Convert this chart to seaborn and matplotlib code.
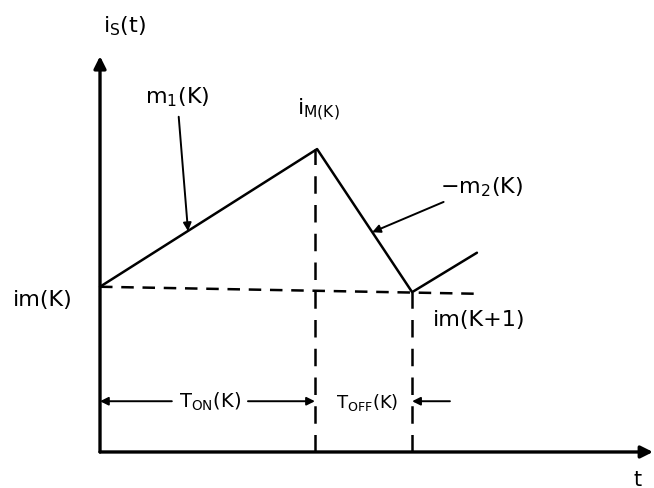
import numpy as np
import pandas as pd
import matplotlib
matplotlib.use("Agg")
import matplotlib.pyplot as plt
import seaborn as sns

# switching waveform of the inductor current (one period plus the start of the next)
t_pts = [0.0, 4.02, 5.78, 6.98]
i_pts = [3.06, 5.61, 2.96, 3.69]

t_on = 3.98      # end of T_ON(K)
t_off = 5.78     # end of T_OFF(K)
i_min = 3.06
i_max = 5.61
t_axis_end = 10.24
i_axis_end = 7.33
arrow_level = 0.94   # height of the T_ON / T_OFF dimension arrows

sns.set_theme(style="white")
plt.rcParams['font.family'] = ['DejaVu Sans']
plt.rcParams['text.color'] = 'black'

fig = plt.figure(figsize=(6.54, 4.89), dpi=100)
ax = fig.add_axes([0, 0, 1, 1])
ax.set_xlim(-1.852, 10.259)
ax.set_ylim(-0.667, 8.389)
ax.axis('off')

df = pd.DataFrame({'t': t_pts, 'i': i_pts})
sns.lineplot(data=df, x='t', y='i', sort=False, color='black', lw=1.8, ax=ax)

# axes drawn by hand like the sketch
ax.annotate('', xy=(t_axis_end, 0), xytext=(0, 0),
            arrowprops=dict(arrowstyle='-|>', color='black', lw=2.4, mutation_scale=18,
                            shrinkA=0, shrinkB=0))
ax.annotate('', xy=(0, i_axis_end), xytext=(0, 0),
            arrowprops=dict(arrowstyle='-|>', color='black', lw=2.4, mutation_scale=18,
                            shrinkA=0, shrinkB=0))

# dashed guide lines
ax.plot([0, t_pts[-1]], [i_min, 2.93], color='black', lw=1.8, ls=(0, (5, 3.5)))
ax.plot([t_on, t_on], [0, i_max], color='black', lw=1.8, ls=(0, (7, 4.5)))
ax.plot([t_off, t_off], [0, i_pts[2]], color='black', lw=1.8, ls=(0, (7, 4.5)))

# T_ON / T_OFF dimension arrows
ap = dict(arrowstyle='-|>', color='black', lw=1.4, mutation_scale=12, shrinkA=0, shrinkB=0)
ax.annotate('', xy=(0, arrow_level), xytext=(1.33, arrow_level), arrowprops=ap)
ax.annotate('', xy=(t_on, arrow_level), xytext=(2.74, arrow_level), arrowprops=ap)
ax.annotate('', xy=(t_off, arrow_level), xytext=(6.48, arrow_level), arrowprops=ap)
ax.text(2.03, arrow_level, r'T$_{\mathregular{ON}}$(K)', ha='center', va='center', fontsize=14)
ax.text(4.95, arrow_level, r'T$_{\mathregular{OFF}}$(K)', ha='center', va='center', fontsize=13)

# labels
ax.text(0.06, 7.91, r'i$_{\mathregular{S}}$(t)', ha='left', va='center', fontsize=16)
ax.text(3.65, 6.35, r'i$_{\mathregular{M(K)}}$', ha='left', va='center', fontsize=16)
ax.text(-1.61, 2.83, 'im(K)', ha='left', va='center', fontsize=16)
ax.text(6.17, 2.46, 'im(K+1)', ha='left', va='center', fontsize=16)
ax.text(9.96, -0.5, 't', ha='center', va='center', fontsize=15)

ax.annotate(r'm$_1$(K)', xy=(1.63, 4.09), xytext=(0.83, 6.59), fontsize=16,
            ha='left', va='center',
            arrowprops=dict(arrowstyle='-|>', color='black', lw=1.4, mutation_scale=12,
                            shrinkA=4, shrinkB=0))
ax.annotate(r'$-$m$_2$(K)', xy=(5.04, 4.07), xytext=(6.3, 4.93), fontsize=16,
            ha='left', va='center',
            arrowprops=dict(arrowstyle='-|>', color='black', lw=1.4, mutation_scale=12,
                            shrinkA=2, shrinkB=0))

fig.savefig('out.png', dpi=100, facecolor='white')
